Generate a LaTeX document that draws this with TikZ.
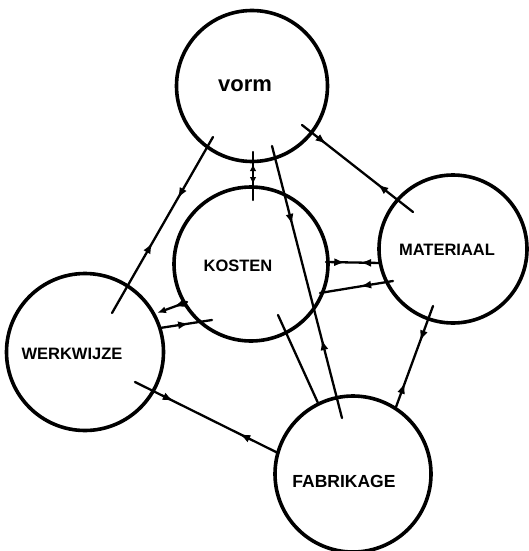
\documentclass[tikz,border=0pt]{standalone}
\usepackage{fontspec}
\setmainfont{Liberation Sans}
\usetikzlibrary{decorations.markings,arrows.meta}
\begin{document}
\begin{tikzpicture}[x=1pt,y=-1pt,
  bubble/.style={circle,draw,line width=3.6pt,inner sep=0pt},
  link/.style={line width=2.3pt,line cap=round},
  tag/.style={font=\bfseries\fontsize{16.5}{16.5}\selectfont,inner sep=0pt},
  headtip/.tip={Latex[length=11pt,width=8pt]},
  smalltip/.tip={Latex[length=7pt,width=6.5pt]},
  twoway/.style 2 args={postaction={decorate},decoration={markings,
      mark=at position #1 with {\arrow{headtip}},
      mark=at position #2 with {\arrowreversed{headtip}}}},
  shortway/.style 2 args={postaction={decorate},decoration={markings,
      mark=at position #1 with {\arrow{smalltip}},
      mark=at position #2 with {\arrowreversed{smalltip}}}},
  oneway/.style={postaction={decorate},decoration={markings,
      mark=at position #1 with {\arrow{headtip}}}},
  backway/.style={postaction={decorate},decoration={markings,
      mark=at position #1 with {\arrowreversed{headtip}}}}
]
\useasboundingbox (0,0) rectangle (529,551);

% the five factors
\node[bubble,minimum size=151pt] (vorm) at (252,86) {};
\node[bubble,minimum size=154pt] (kosten) at (251,264) {};
\node[bubble,minimum size=148pt] (materiaal) at (453,249) {};
\node[bubble,minimum size=157pt] (werkwijze) at (85,352) {};
\node[bubble,minimum size=156pt] (fabrikage) at (353,474) {};

\node[tag,font=\bfseries\fontsize{22}{22}\selectfont] (tvorm) at (245,86) {vorm};
\node[tag] (tkosten) at (238,266) {KOSTEN};
\node[tag] (tmateriaal) at (447,250) {MATERIAAL};
\node[tag] (twerkwijze) at (72,354) {WERKWIJZE};
\node[tag,font=\bfseries\fontsize{17.5}{17.5}\selectfont] (tfabrikage) at (344,481) {FABRIKAGE};

% end points of the relations
\coordinate (vw1) at (213,137);  \coordinate (vw2) at (112,313);
\coordinate (vk1) at (253,152);  \coordinate (vk2) at (253,200);
\coordinate (vf1) at (272,146);  \coordinate (vf2) at (342,418);
\coordinate (kf1) at (278,315);  \coordinate (kf2) at (318,403);
\coordinate (vm1) at (302,125);  \coordinate (vm2) at (413,212);
\coordinate (km1) at (326,262);  \coordinate (km2) at (381,263);
\coordinate (km3) at (320,293);  \coordinate (km4) at (393,281);
\coordinate (kw1) at (187,302);  \coordinate (kw2) at (157,313);
\coordinate (kw3) at (160,328);  \coordinate (kw4) at (212,320);
\coordinate (mf1) at (433,306);  \coordinate (mf2) at (396,407);
\coordinate (wf1) at (135,382);  \coordinate (wf2) at (278,453);

% relations
\draw[link,twoway={0.35}{0.60}] (vw1) -- (vw2);
\draw[link,shortway={0.67}{0.25}] (vk1) -- (vk2);
\draw[link,twoway={0.29}{0.71}] (vf1) -- (vf2);
\draw[link] (kf1) -- (kf2);
\draw[link,twoway={0.22}{0.68}] (vm1) -- (vm2);
\draw[link,twoway={0.35}{0.62}] (km1) -- (km2);
\draw[link,backway={0.55}] (km3) -- (km4);
\draw[link,-{Latex[length=9pt,width=7pt]},oneway={0.45}] (kw1) -- (kw2);
\draw[link,oneway={0.56}] (kw3) -- (kw4);
\draw[link,twoway={0.35}{0.76}] (mf1) -- (mf2);
\draw[link,twoway={0.27}{0.73}] (wf1) -- (wf2);
\end{tikzpicture}
\end{document}
